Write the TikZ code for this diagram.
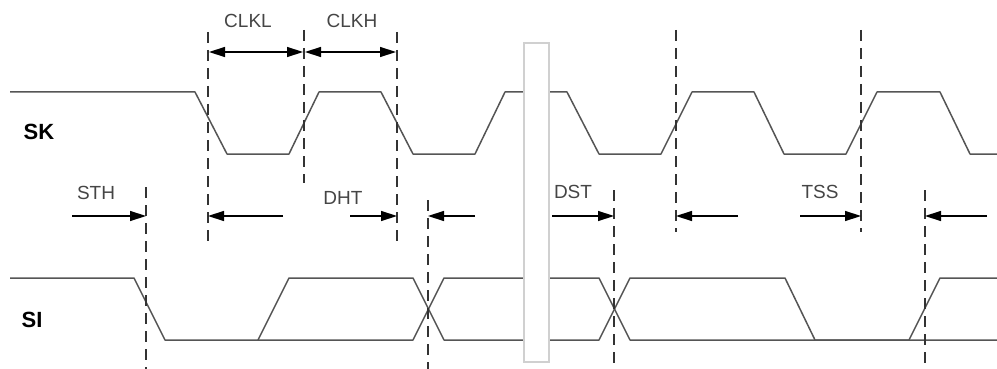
\documentclass[tikz,border=0pt]{standalone}
\usepackage{fontspec}
\setmainfont{Liberation Sans}
\usetikzlibrary{arrows.meta}
\definecolor{wavegray}{HTML}{555555}
\definecolor{guidegray}{HTML}{333333}
\definecolor{labelgray}{HTML}{454545}
\definecolor{boxgray}{HTML}{D0D0D0}
\begin{document}
\begin{tikzpicture}[x=1pt,y=-1pt,
  wave/.style={draw=wavegray,line width=1.5pt,line join=round},
  guide/.style={draw=guidegray,dash pattern=on 11pt off 7pt,line width=1.4pt},
  dim/.style={draw=black,line width=1.4pt,-{Triangle[length=16pt,width=10pt]}},
  dimboth/.style={draw=black,line width=1.4pt,{Triangle[length=16pt,width=10pt]}-{Triangle[length=16pt,width=10pt]},shorten <=1pt,shorten >=1pt},
  lbl/.style={text=labelgray,font=\fontsize{19}{19}\selectfont,inner sep=0pt},
  sig/.style={text=black,font=\bfseries\fontsize{22}{22}\selectfont,inner sep=0pt}]
\useasboundingbox (0,0) rectangle (997,369);

% SK clock
\draw[wave] (10,92) -- (195,92) -- (227,154) -- (289,154) -- (319,92) -- (381,92)
  -- (413,154) -- (475,154) -- (505,92) -- (567,92) -- (599,154) -- (661,154)
  -- (692,92) -- (754,92) -- (784,154) -- (846,154) -- (877,92) -- (940,92)
  -- (970,154) -- (997,154);

% SI data
\draw[wave] (10,278) -- (134,278) -- (165,340) -- (413,340) -- (444,278) -- (599,278)
  -- (630,340) -- (997,340);
\draw[wave] (258,340) -- (289,278) -- (413,278) -- (444,340) -- (599,340) -- (630,278)
  -- (785,278) -- (815,340) -- (909,340) -- (940,278) -- (997,278);

% break bar
\node[draw=boxgray,fill=white,line width=1.2pt,minimum width=25pt,minimum height=319pt,inner sep=0pt] (brk) at (536.5,202.5) {};

% guide lines
\coordinate (g1t) at (208,32);  \coordinate (g1b) at (208,247);
\coordinate (g2t) at (304,30);  \coordinate (g2b) at (304,183);
\coordinate (g3t) at (397,32);  \coordinate (g3b) at (397,247);
\coordinate (g4t) at (146,187); \coordinate (g4b) at (146,369);
\coordinate (g5t) at (428,200); \coordinate (g5b) at (428,369);
\coordinate (g6t) at (614,190); \coordinate (g6b) at (614,369);
\coordinate (g7t) at (676,30);  \coordinate (g7b) at (676,232);
\coordinate (g8t) at (861,30);  \coordinate (g8b) at (861,232);
\coordinate (g9t) at (925,190); \coordinate (g9b) at (925,369);
\foreach \g in {1,...,9} {\draw[guide] (g\g t) -- (g\g b);}

% CLKL / CLKH
\coordinate (c1) at (208,52); \coordinate (c2) at (304,52); \coordinate (c3) at (397,52);
\draw[dimboth] (c1) -- (c2);
\draw[dimboth] (c2) -- (c3);
\node[lbl] (clkl) at (248,21) {CLKL};
\node[lbl] (clkh) at (352,21) {CLKH};

% timing arrows
\coordinate (a1s) at (72,216);  \coordinate (a1e) at (146,216);
\coordinate (a2s) at (283,216); \coordinate (a2e) at (208,216);
\coordinate (a3s) at (350,216); \coordinate (a3e) at (397,216);
\coordinate (a4s) at (475,216); \coordinate (a4e) at (428,216);
\coordinate (a5s) at (552,216); \coordinate (a5e) at (614,216);
\coordinate (a6s) at (738,216); \coordinate (a6e) at (676,216);
\coordinate (a7s) at (800,216); \coordinate (a7e) at (861,216);
\coordinate (a8s) at (987,216); \coordinate (a8e) at (925,216);
\foreach \a in {1,...,8} {\draw[dim] (a\a s) -- (a\a e);}

\node[lbl] (sth) at (96,193) {STH};
\node[lbl] (dht) at (343,198) {DHT};
\node[lbl] (dst) at (573,192) {DST};
\node[lbl] (tss) at (820,192) {TSS};

\node[sig] (sk) at (39,132) {SK};
\node[sig] (si) at (32,320) {SI};
\end{tikzpicture}
\end{document}
